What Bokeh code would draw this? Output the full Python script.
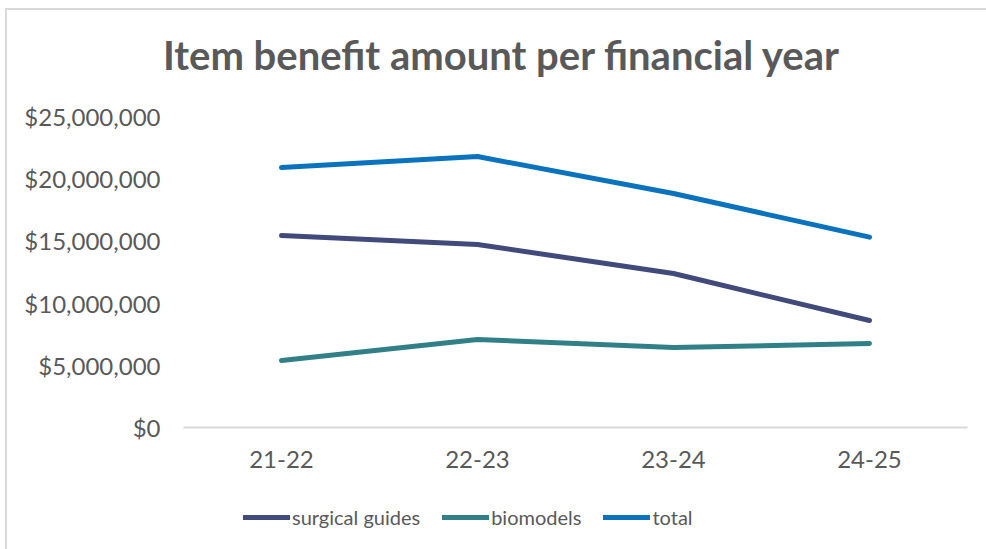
from bokeh.plotting import figure
from bokeh.layouts import column
from bokeh.models import (FactorRange, Range1d, FixedTicker, NumeralTickFormatter,
                          Legend, LegendItem, Div)
from bokeh.embed import file_html
from bokeh.resources import INLINE

title = "Item benefit amount per financial year"
years = ["21-22", "22-23", "23-24", "24-25"]
surgical_guides = [15_430_000, 14_710_000, 12_380_000, 8_600_000]
biomodels = [5_390_000, 7_070_000, 6_430_000, 6_750_000]
total = [20_900_000, 21_780_000, 18_810_000, 15_300_000]
y_ticks = [0, 5_000_000, 10_000_000, 15_000_000, 20_000_000, 25_000_000]

FONT = "Lato"
GREY = "#595959"
W = 979
TITLE_H = 90
MAIN_H = 377
LEG_H = 72

series = [("surgical guides", surgical_guides, "#414a7b"),
          ("biomodels", biomodels, "#318088"),
          ("total", total, "#0b72bd")]

# heading
head = Div(text=(f'<div style="padding:25px 0 0 156px; white-space:nowrap; '
                 f'font-family:{FONT}; font-weight:bold; font-size:40px; '
                 f'line-height:40px; color:{GREY}">{title}</div>'),
           width=W, height=TITLE_H, margin=0)

# main chart
p = figure(width=W, height=MAIN_H, x_range=FactorRange(*years, range_padding=0),
           y_range=Range1d(0, 25_000_000), output_backend="svg",
           toolbar_location=None, min_border_left=176, min_border_right=19,
           min_border_top=16, min_border_bottom=50)
p.outline_line_color = None
p.xgrid.grid_line_color = None
p.ygrid.grid_line_color = None

p.yaxis.ticker = FixedTicker(ticks=y_ticks)
p.yaxis.formatter = NumeralTickFormatter(format="$0,0")
p.yaxis.axis_line_color = None
p.yaxis.major_tick_line_color = None
p.yaxis.minor_tick_line_color = None
p.yaxis.major_label_text_font = FONT
p.yaxis.major_label_text_font_size = "24px"
p.yaxis.major_label_text_color = GREY
p.yaxis.major_label_standoff = 17

p.xaxis.axis_line_color = "#d9d9d9"
p.xaxis.axis_line_width = 2
p.xaxis.major_tick_line_color = None
p.xaxis.minor_tick_line_color = None
p.xaxis.major_label_text_font = FONT
p.xaxis.major_label_text_font_size = "24px"
p.xaxis.major_label_text_color = GREY
p.xaxis.major_label_standoff = 17

for name, vals, color in series:
    p.line(years, vals, line_color=color, line_width=5, line_cap="round",
           line_join="round")

# legend strip underneath the chart; its lines sit outside its visible range
lf = figure(width=W, height=LEG_H, x_range=p.x_range, y_range=Range1d(-2, -1),
            output_backend="svg", toolbar_location=None,
            min_border_left=176, min_border_right=19, min_border_top=0,
            min_border_bottom=0)
lf.axis.visible = False
lf.grid.visible = False
lf.outline_line_color = None
items = []
for name, vals, color in series:
    r = lf.line(years, vals, line_color=color, line_width=5, line_cap="round")
    items.append(LegendItem(label=name, renderers=[r]))
legend = Legend(items=items, orientation="horizontal", location=(60, 20),
                label_text_font=FONT, label_text_font_size="20px",
                label_text_color=GREY, glyph_width=47, glyph_height=20,
                label_standoff=2, spacing=22, padding=0, margin=0,
                background_fill_alpha=0, border_line_color=None)
lf.add_layout(legend, "center")

page = column(head, p, lf, spacing=0, margin=(8, 0, 0, 5),
              styles={"border-left": "2px solid #d9d9d9",
                      "border-top": "2px solid #d9d9d9"})

open("out.html", "w").write(file_html(page, INLINE))
